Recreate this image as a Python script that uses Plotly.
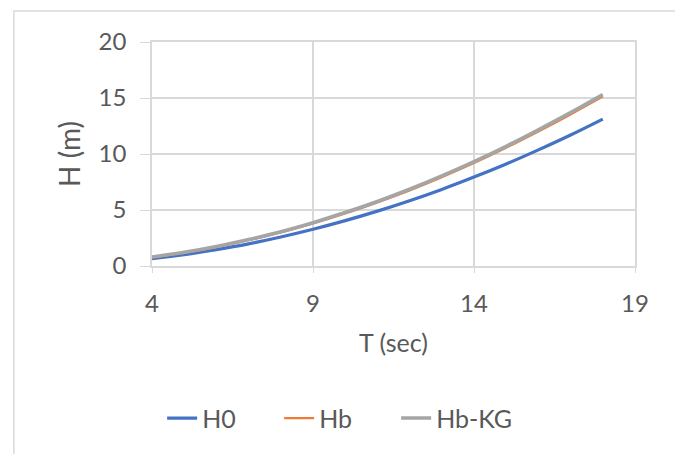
import plotly.graph_objects as go

T = [4, 5, 6, 7, 8, 9, 10, 11, 12, 13, 14, 15, 16, 17, 18]
H0 = [0.65, 1.01, 1.46, 1.98, 2.59, 3.28, 4.05, 4.90, 5.83, 6.84, 7.94, 9.11, 10.37, 11.70, 13.12]
Hb = [0.75, 1.17, 1.69, 2.30, 3.00, 3.80, 4.69, 5.68, 6.75, 7.93, 9.20, 10.56, 12.01, 13.53, 15.12]
HbKG = [0.80, 1.22, 1.74, 2.36, 3.06, 3.87, 4.77, 5.76, 6.85, 8.04, 9.32, 10.69, 12.16, 13.69, 15.30]

x_ticks = [4, 9, 14, 19]
y_ticks = [0, 5, 10, 15, 20]

font_family = "Lato, 'Open Sans', sans-serif"
grid = "#D9D9D9"
txt = "#595959"

fig = go.Figure()
fig.add_trace(go.Scatter(x=T, y=H0, mode="lines", name="H0",
                         line=dict(color="#4472C4", width=3.2, shape="spline")))
fig.add_trace(go.Scatter(x=T, y=Hb, mode="lines", name="Hb",
                         line=dict(color="#ED7D31", width=2.2, shape="spline")))
fig.add_trace(go.Scatter(x=T, y=HbKG, mode="lines", name="Hb-KG",
                         line=dict(color="#A5A5A5", width=3.6, shape="spline")))

fig.update_layout(
    width=675, height=446,
    margin=dict(l=144, r=48, t=34, b=188),
    paper_bgcolor="white", plot_bgcolor="white",
    font=dict(family=font_family, color=txt),
    showlegend=True,
    legend=dict(orientation="h", x=0.021, xanchor="left", y=-0.68, yanchor="middle",
                font=dict(size=25, color=txt), traceorder="normal",
                entrywidth=72, entrywidthmode="pixels"),
    xaxis=dict(range=[4, 19], tickvals=x_ticks, showgrid=True, gridcolor=grid, gridwidth=1.5,
               zeroline=False, showline=True, linecolor=grid, linewidth=1.5, mirror=True,
               ticks="outside", ticklen=5, tickcolor=grid, ticklabelstandoff=10,
               tickfont=dict(size=24, color=txt),
               title=dict(text="T (sec)", font=dict(size=25, color=txt), standoff=19)),
    yaxis=dict(range=[0, 20], tickvals=y_ticks, showgrid=True, gridcolor=grid, gridwidth=1.5,
               zeroline=False, showline=True, linecolor=grid, linewidth=1.5, mirror=True,
               ticks="outside", ticklen=10, tickcolor=grid, ticklabelstandoff=9,
               tickfont=dict(size=24, color=txt),
               title=dict(text="H (m)", font=dict(size=28, color=txt), standoff=10)),
    shapes=[dict(type="rect", xref="paper", yref="paper", x0=-0.286, x1=1.096, y0=-1.2, y1=1.138,
                 line=dict(color="#D9D9D9", width=1.5), fillcolor="rgba(0,0,0,0)", layer="below")],
)

fig.write_html("out.html")
